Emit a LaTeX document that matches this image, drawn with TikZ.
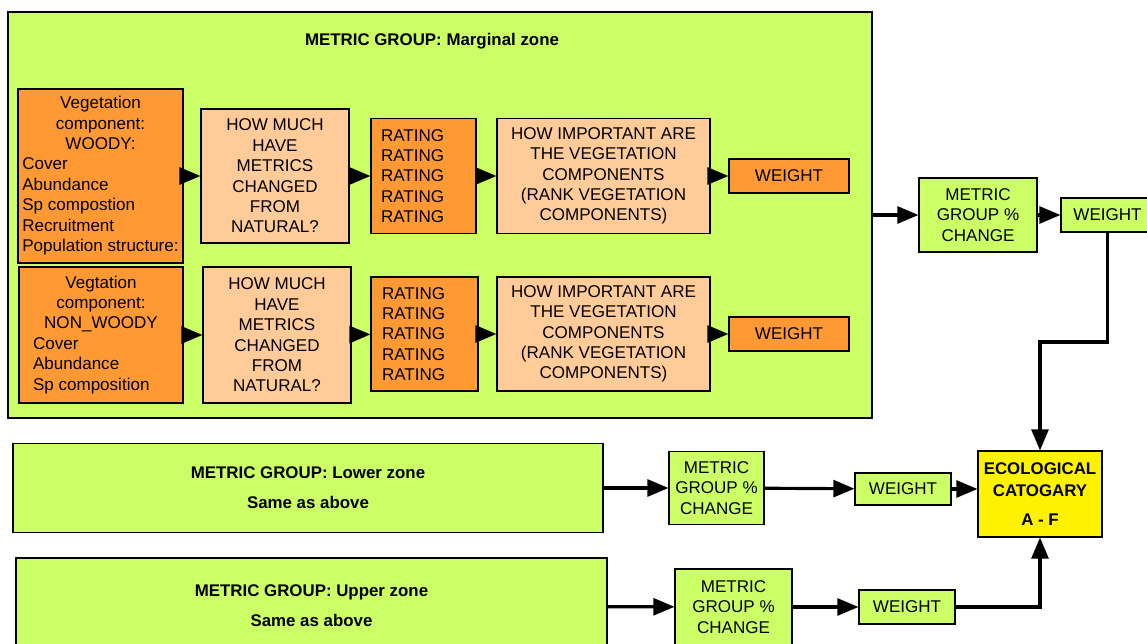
\documentclass[tikz,border=0pt]{standalone}
\usepackage{fontspec}
\setmainfont{Liberation Sans}
\usepackage{xcolor}
\usepackage{tikz}
\usetikzlibrary{positioning, arrows}
\definecolor{limegreen}{HTML}{CCFF66}
\definecolor{darkorange}{HTML}{FF9933}
\definecolor{peach}{HTML}{FFCC99}
\tikzset{
  box/.style={draw, line width=0.8pt, align=center, inner sep=1pt, font=\fontsize{9.7}{11.6}\selectfont},
  greenbox/.style={box, fill=limegreen},
  orangebox/.style={box, fill=darkorange},
  peachbox/.style={box, fill=peach},
  ecobox/.style={box, fill=yellow, font=\fontsize{9.6}{12.5}\selectfont\bfseries},
  heading/.style={font=\fontsize{9.6}{11.4}\selectfont\bfseries, align=center},
  flow/.style={-triangle 45, line width=1.8pt},
}

\begin{document}
\begin{tikzpicture}[x=0.02cm, y=-0.02cm]
\useasboundingbox (0,0) rectangle (1147,644);
\node[greenbox, minimum width=17.28cm, minimum height=8.12cm] (marginal) at (440,215) {};
\node[heading] (margtitle) at (432,41) {METRIC GROUP: Marginal zone};

\node[orangebox, minimum width=3.3cm, minimum height=3.48cm] (woody) at (100.5,176)
{\begin{tabular}{@{}l@{}}
\multicolumn{1}{@{}c@{}}{Vegetation}\\
\multicolumn{1}{@{}c@{}}{component:}\\
\multicolumn{1}{@{}c@{}}{WOODY:}\\
Cover\\
Abundance\\
Sp compostion\\
Recruitment\\
Population structure:
\end{tabular}};
\node[orangebox, minimum width=3.28cm, minimum height=2.72cm] (nonwoody) at (101,335)
{\begin{tabular}{@{}p{2.96cm}@{}}
\multicolumn{1}{@{}c@{}}{Vegtation}\\
\multicolumn{1}{@{}c@{}}{component:}\\
\multicolumn{1}{@{}c@{}}{NON\_WOODY}\\
\hspace*{0.12cm}Cover\\
\hspace*{0.12cm}Abundance\\
\hspace*{0.12cm}Sp composition
\end{tabular}};

\node[peachbox, minimum width=2.96cm, minimum height=2.68cm] (howmuch1) at (275,176)
{HOW MUCH\\HAVE\\METRICS\\CHANGED\\FROM\\NATURAL?};
\node[peachbox, minimum width=2.96cm, minimum height=2.72cm] (howmuch2) at (277,335)
{HOW MUCH\\HAVE\\METRICS\\CHANGED\\FROM\\NATURAL?};

\node[orangebox, minimum width=2.1cm, minimum height=2.3cm, text width=1.7cm, align=left] (rating1) at (423.5,176)
{RATING\\RATING\\RATING\\RATING\\RATING};
\node[orangebox, minimum width=2.14cm, minimum height=2.28cm, text width=1.7cm, align=left] (rating2) at (424.5,334)
{RATING\\RATING\\RATING\\RATING\\RATING};

\node[peachbox, minimum width=4.26cm, minimum height=2.3cm] (important1) at (603.5,176)
{HOW IMPORTANT ARE\\THE VEGETATION\\COMPONENTS\\(RANK VEGETATION\\COMPONENTS)};
\node[peachbox, minimum width=4.26cm, minimum height=2.28cm] (important2) at (603.5,334)
{HOW IMPORTANT ARE\\THE VEGETATION\\COMPONENTS\\(RANK VEGETATION\\COMPONENTS)};

\node[orangebox, minimum width=2.4cm, minimum height=0.68cm] (weight1) at (789,176) {WEIGHT};
\node[orangebox, minimum width=2.4cm, minimum height=0.68cm] (weight2) at (789,334) {WEIGHT};

\node[greenbox, minimum width=2.36cm, minimum height=1.48cm] (change1) at (978,215) {METRIC\\GROUP \%\\CHANGE};
\node[greenbox, minimum width=1.86cm, minimum height=0.68cm] (weightm) at (1107.5,215) {WEIGHT};

\node[greenbox, minimum width=11.8cm, minimum height=1.78cm, heading] (lower) at (308,488)
{METRIC GROUP: Lower zone\\[5.7pt]Same as above};
\node[greenbox, minimum width=1.9cm, minimum height=1.46cm] (change2) at (716.5,488) {METRIC\\GROUP \%\\CHANGE};
\node[greenbox, minimum width=1.92cm, minimum height=0.64cm] (weightl) at (903,489) {WEIGHT};

\node[greenbox, minimum width=11.82cm, minimum height=1.92cm, heading] (upper) at (311.5,606)
{METRIC GROUP: Upper zone\\[5.7pt]Same as above};
\node[greenbox, minimum width=2.34cm, minimum height=1.52cm] (change3) at (733.5,607) {METRIC\\GROUP \%\\CHANGE};
\node[greenbox, minimum width=1.92cm, minimum height=0.68cm] (weightu) at (907,607) {WEIGHT};

\node[ecobox, minimum width=2.48cm, minimum height=1.72cm] (eco) at (1040,494)
{ECOLOGICAL\\CATOGARY\\[4pt]A - F};

\coordinate (bend) at (1040,342);

\path[flow]
(woody) edge (howmuch1)
(howmuch1) edge (rating1)
(rating1) edge (important1)
(important1) edge (weight1)
(nonwoody) edge (howmuch2)
(howmuch2) edge (rating2)
(rating2) edge (important2)
(important2) edge (weight2)
(marginal.east |- change1) edge (change1)
(change1) edge (weightm)
(lower) edge (change2)
(change2) edge (weightl)
(weightl.east) edge (weightl.east -| eco.west)
(upper) edge (change3)
(change3) edge (weightu);
\draw[flow] (weightm.south) |- (bend) -- (eco.north);
\draw[flow] (weightu.east) -| (eco.south);
\end{tikzpicture}
\end{document}
